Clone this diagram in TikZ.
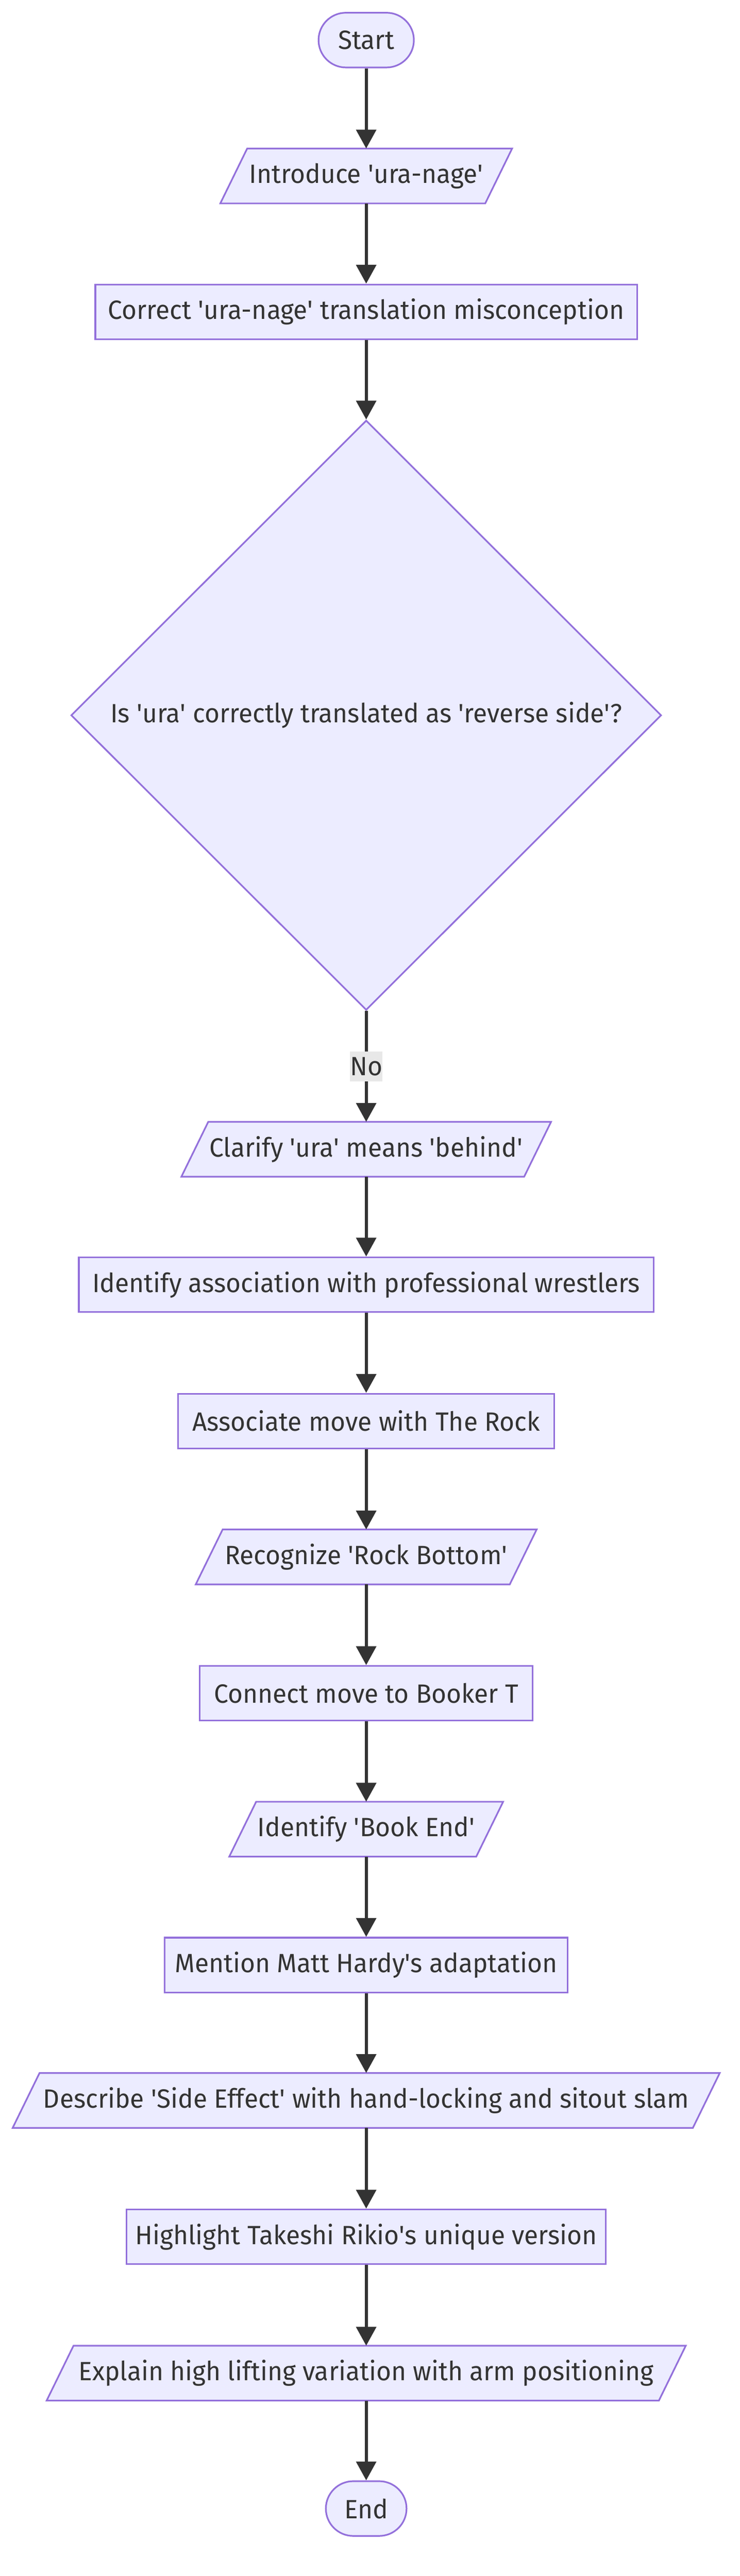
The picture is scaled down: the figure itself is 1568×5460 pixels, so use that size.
\documentclass[tikz,border=0pt]{standalone}
\usepackage{fontspec}
\setmainfont{Fira Sans}[FakeStretch=0.97]
\usetikzlibrary{arrows.meta,shapes.geometric,backgrounds}
\definecolor{nodefill}{HTML}{ECECFF}
\definecolor{nodeline}{HTML}{9370DB}
\definecolor{edgecol}{HTML}{333333}
\definecolor{lblbg}{HTML}{E8E8E8}
\newcommand{\sq}{\textquotesingle}
\tikzset{
  base/.style={font=\fontsize{56pt}{67pt}\selectfont, text=edgecol, minimum height=116pt, inner sep=0pt, anchor=center},
  boxnode/.style={base, rectangle, draw=nodeline, fill=nodefill, line width=3.5pt},
  termnode/.style={base, rectangle, rounded corners=58pt, draw=nodeline, fill=nodefill, line width=3.5pt},
  paranode/.style={base, rectangle},
  decnode/.style={base, diamond, draw=nodeline, fill=nodefill, line width=3.5pt, minimum width=1251pt, minimum height=1250pt},
  conn/.style={draw=edgecol, line width=6.5pt, -{Triangle[length=40pt,width=42pt]}},
  lbl/.style={font=\fontsize{56pt}{67pt}\selectfont, text=edgecol, fill=lblbg, inner sep=0pt, minimum height=63pt, minimum width=64pt},
}
\newcommand{\para}[1]{%
  \begin{pgfonlayer}{background}
  \filldraw[draw=nodeline, fill=nodefill, line width=3.5pt]
    ([xshift=57pt]#1.north west) -- (#1.north east) -- ([xshift=-57pt]#1.south east) -- (#1.south west) -- cycle;
  \end{pgfonlayer}}
\begin{document}
\begin{tikzpicture}[x=1pt,y=1pt]
\useasboundingbox (0,0) rectangle (1568,-5460);
\node[termnode, minimum width=202pt] (start) at (776,-85) {Start};
\node[paranode, minimum width=618pt] (intro) at (776,-373) {Introduce \sq ura-nage\sq};
\node[boxnode, minimum width=1148pt] (correct) at (776,-661) {Correct \sq ura-nage\sq{} translation misconception};
\node[decnode] (dec) at (776,-1516) {Is \sq ura\sq{} correctly translated as \sq reverse side\sq ?};
\node[paranode, minimum width=783pt] (clarify) at (776,-2436) {Clarify \sq ura\sq{} means \sq behind\sq};
\node[boxnode, minimum width=1218pt] (ident) at (776,-2723) {Identify association with professional wrestlers};
\node[boxnode, minimum width=797pt] (assoc) at (776,-3012) {Associate move with The Rock};
\node[paranode, minimum width=722pt] (recog) at (776,-3300) {Recognize \sq Rock Bottom\sq};
\node[boxnode, minimum width=706pt] (connect) at (776,-3589) {Connect move to Booker T};
\node[paranode, minimum width=580pt] (bookend) at (776,-3877) {Identify \sq Book End\sq};
\node[boxnode, minimum width=854pt] (mention) at (776,-4165) {Mention Matt Hardy\sq s adaptation};
\node[paranode, minimum width=1498pt] (describe) at (776,-4452) {Describe \sq Side Effect\sq{} with hand-locking and sitout slam};
\node[boxnode, minimum width=1016pt] (highlight) at (776,-4741) {Highlight Takeshi Rikio\sq s unique version};
\node[paranode, minimum width=1354pt] (explain) at (776,-5030) {Explain high lifting variation with arm positioning};
\node[termnode, minimum width=171pt] (finish) at (776,-5317) {End};
\para{intro}\para{clarify}\para{recog}\para{bookend}\para{describe}\para{explain}
\draw[conn] (start) -- (intro);
\draw[conn] (intro) -- (correct);
\draw[conn] (correct) -- (dec);
\draw[conn] (dec) -- node[lbl] (nolbl) {No} (clarify);
\draw[conn] (clarify) -- (ident);
\draw[conn] (ident) -- (assoc);
\draw[conn] (assoc) -- (recog);
\draw[conn] (recog) -- (connect);
\draw[conn] (connect) -- (bookend);
\draw[conn] (bookend) -- (mention);
\draw[conn] (mention) -- (describe);
\draw[conn] (describe) -- (highlight);
\draw[conn] (highlight) -- (explain);
\draw[conn] (explain) -- (finish);
\end{tikzpicture}
\end{document}
